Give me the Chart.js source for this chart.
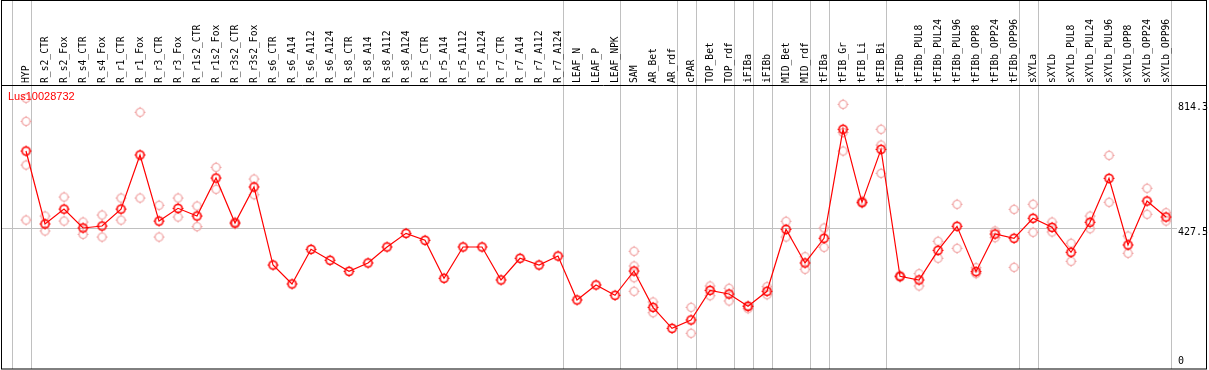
<!DOCTYPE html>
<html>
<head>
<meta charset="utf-8">
<title>Lus10028732</title>
<script src="https://cdn.jsdelivr.net/npm/chart.js@4"></script>
<style>
  html, body { margin: 0; padding: 0; background: #fff; }
  canvas { display: block; }
</style>
</head>
<body>
<canvas id="exprChart" width="1209" height="370"></canvas>
<script>
// ─── Data ────────────────────────────────────────────────────────────────────

const geneName = "Lus10028732";

const categories = [
  "HYP", "R_s2_CTR", "R_s2_Fox", "R_s4_CTR", "R_s4_Fox", "R_r1_CTR", "R_r1_Fox",
  "R_r3_CTR", "R_r3_Fox", "R_r1s2_CTR", "R_r1s2_Fox", "R_r3s2_CTR", "R_r3s2_Fox",
  "R_s6_CTR", "R_s6_A14", "R_s6_A112", "R_s6_A124", "R_s8_CTR", "R_s8_A14",
  "R_s8_A112", "R_s8_A124", "R_r5_CTR", "R_r5_A14", "R_r5_A112", "R_r5_A124",
  "R_r7_CTR", "R_r7_A14", "R_r7_A112", "R_r7_A124", "LEAF_N", "LEAF_P", "LEAF_NPK",
  "SAM", "AR_Bet", "AR_rdf", "cPAR", "TOP_Bet", "TOP_rdf", "iFIBa", "iFIBb",
  "MID_Bet", "MID_rdf", "tFIBa", "tFIB_Gr", "tFIB_Li", "tFIB_Bi", "tFIBb",
  "tFIBb_PUL8", "tFIBb_PUL24", "tFIBb_PUL96", "tFIBb_OPP8", "tFIBb_OPP24", "tFIBb_OPP96",
  "sXYLa", "sXYLb", "sXYLb_PUL8", "sXYLb_PUL24", "sXYLb_PUL96", "sXYLb_OPP8",
  "sXYLb_OPP24", "sXYLb_OPP96"
];

const meanValues = [
  664.8, 439, 485, 426.6, 432.7, 485, 652.5, 448, 487.5, 463.7, 581.3, 442, 553.5,
  312, 253.3, 360.6, 326.6, 292.5, 318.3, 367.8, 410.1, 388.5, 270.9, 367.8, 367.8,
  265.7, 332.8, 312, 339.9, 203.8, 250.2, 218.3,
  293.5, 181.1, 116.1, 141.9, 233.7, 222.3, 184.2, 230.7,
  422.5, 318.3, 394.7, 732, 506, 670, 277,
  265.7, 357.5, 431.8, 291.4, 408, 394.7,
  456.6, 428.7, 351.4, 444.2, 580.3, 374, 510, 460.6
];

// individual replicates (empty = single sample)
const replicateValues = [
  [828, 756.7, 621.5, 451.2],
  [463.7, 417.3], [522.4, 448.1], [445, 407], [466.8, 398.7],
  [519.3, 451], [784.6, 519.3], [496.8, 398.7], [519.3, 460.6],
  [494.6, 430.7], [614.3, 546.3], [445, 439], [578.2, 529.6],
  [], [], [], [], [], [], [], [], [], [], [], [], [], [], [], [], [], [], [],
  [354.5, 309, 272.8, 230.7], [197.6, 164.5], [], [181.1, 100.7],
  [247.1, 217.1], [240, 200.7], [186, 177], [245, 220.2],
  [447.3, 398.7], [337.8, 298.8], [426.6, 366.8],
  [809.3, 722, 664.8], [510, 503], [732, 683.4, 595.8], [280, 274],
  [285.2, 247.1], [385.4, 332.8], [499.9, 363.7], [303.7, 285.2], [417.3, 396.6], [484.4, 304.9],
  [499.9, 413.3], [445.1, 414.2], [379.2, 323.5], [463.7, 424.4], [651.5, 506.1],
  [401.8, 348.3], [549.4, 469], [473.9, 448.2]
];

// sample groups end after these category indexes
const groupBreaks = [-1, 0, 28, 31, 34, 35, 37, 38, 39, 41, 42, 45, 52, 53, 60];

const yTickValues = [814.3, 427.5, 0];
const yGridValues = [427.5];

// ─── Markers ─────────────────────────────────────────────────────────────────

function makeMarker(color, lw) {
  const c = document.createElement("canvas");
  c.width = 13;
  c.height = 13;
  const g = c.getContext("2d");
  g.strokeStyle = color;
  g.lineWidth = lw;
  g.beginPath();
  g.arc(6.5, 6.5, 4, 0, Math.PI * 2);
  g.stroke();
  g.lineWidth = 1;
  g.beginPath();
  g.moveTo(6.5, 1); g.lineTo(6.5, 2.5);
  g.moveTo(6.5, 10.5); g.lineTo(6.5, 12);
  g.moveTo(1, 6.5); g.lineTo(2.5, 6.5);
  g.moveTo(10.5, 6.5); g.lineTo(12, 6.5);
  g.stroke();
  return c;
}

const mainMarker = makeMarker("#ff0000", 1.6);
const repMarker  = makeMarker("#f0a0a0", 1.2);

// ─── Decorations ─────────────────────────────────────────────────────────────

const frame = {
  id: "frame",
  beforeDatasetsDraw(chart) {
    const { ctx, chartArea: a, scales: { x, y } } = chart;
    ctx.save();
    ctx.strokeStyle = "#c0c0c0";
    ctx.lineWidth = 1;
    for (const k of groupBreaks) {
      const px = Math.round(x.getPixelForValue(k + 0.25)) + 0.5;
      ctx.beginPath();
      ctx.moveTo(px, 0);
      ctx.lineTo(px, a.bottom);
      ctx.stroke();
    }
    for (const v of yGridValues) {
      const py = Math.round(y.getPixelForValue(v)) + 0.5;
      ctx.beginPath();
      ctx.moveTo(a.left, py);
      ctx.lineTo(1177, py);
      ctx.stroke();
    }
    ctx.restore();
  },
  afterDraw(chart) {
    const { ctx, chartArea: a, scales: { x, y } } = chart;
    ctx.save();

    // outer box + header rule
    ctx.strokeStyle = "#000";
    ctx.lineWidth = 1;
    ctx.strokeRect(a.left + 0.5, 0.5, a.right - a.left, a.bottom - 0.5);
    ctx.beginPath();
    ctx.moveTo(a.left, a.top - 0.5);
    ctx.lineTo(a.right, a.top - 0.5);
    ctx.stroke();

    // rotated sample names
    ctx.fillStyle = "#000";
    ctx.font = "9.7px 'DejaVu Sans Mono', monospace";
    ctx.textAlign = "left";
    ctx.textBaseline = "middle";
    categories.forEach((name, i) => {
      ctx.save();
      ctx.translate(x.getPixelForValue(i), a.top - 3);
      ctx.rotate(-Math.PI / 2);
      ctx.fillText(name, 0, 0);
      ctx.restore();
    });

    // value labels on the right
    ctx.font = "10px 'DejaVu Sans Mono', monospace";
    for (const v of yTickValues) {
      ctx.textBaseline = v === 0 ? "bottom" : "top";
      ctx.fillText(String(v), 1178, y.getPixelForValue(v) + (v === 0 ? 1 : 0));
    }

    // gene title
    ctx.fillStyle = "#ff0000";
    ctx.font = "11px 'Liberation Sans', Arial, sans-serif";
    ctx.textBaseline = "top";
    ctx.fillText(geneName, 8, a.top + 5);

    ctx.restore();
  }
};

// ─── Chart ───────────────────────────────────────────────────────────────────

const meanPoints = meanValues.map((v, i) => ({ x: i, y: v }));
const repPoints = [];
replicateValues.forEach((list, i) => {
  for (const v of list) repPoints.push({ x: i, y: v });
});

new Chart(document.getElementById("exprChart"), {
  type: "scatter",
  data: {
    datasets: [
      {
        label: "mean",
        data: meanPoints,
        showLine: true,
        borderColor: "#ff0000",
        borderWidth: 1.2,
        pointStyle: mainMarker,
        pointRadius: 5,
        order: 0
      },
      {
        label: "replicates",
        data: repPoints,
        showLine: false,
        pointStyle: repMarker,
        pointRadius: 5,
        order: 1
      }
    ]
  },
  options: {
    responsive: false,
    animation: false,
    layout: { autoPadding: false, padding: { left: 1, right: 3, top: 86, bottom: 1 } },
    plugins: { legend: { display: false }, tooltip: { enabled: false } },
    scales: {
      x: { type: "linear", display: false, min: -1.3158, max: 62.105 },
      y: { type: "linear", display: false, min: -9.75, max: 866 }
    }
  },
  plugins: [frame]
});
</script>
</body>
</html>
